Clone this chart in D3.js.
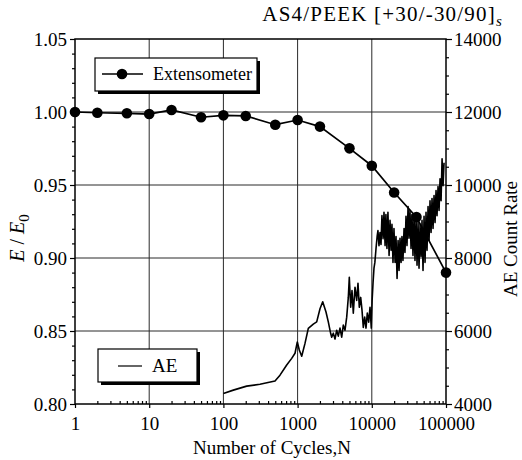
<!DOCTYPE html>
<html>
<head>
<meta charset="utf-8">
<script src="https://cdn.jsdelivr.net/npm/d3@7/dist/d3.min.js"></script>
<style>
  html, body { margin: 0; padding: 0; background: #fff; }
  svg { display: block; }
  svg text { font-family: "Liberation Serif", "Times New Roman", Times, "DejaVu Serif", serif; }
</style>
</head>
<body>
<svg id="chart" width="522" height="460"></svg>
<script>
// extensometer: normalised modulus E/E0 vs cycles
const extCycles = [1, 2, 5, 10, 20, 50, 100, 200, 500, 1000, 2000, 5000, 10000, 20000, 40000, 100000];
const extModulus = [1.000, 0.9995, 0.9991, 0.9986, 1.0014, 0.9964, 0.9977, 0.9973, 0.9913, 0.9945, 0.990, 0.9751, 0.9632, 0.9449, 0.928, 0.890];

// acoustic emission count rate vs cycles
const aeCycles = [
  100, 136, 206, 311, 496, 579, 713, 833, 923, 991, 1054, 1136, 1258, 1394, 1628, 1809,
  2004, 2180, 2414, 2593, 2793, 2882, 3028, 3192, 3365, 3537, 3727, 3929, 4130, 4354,
  4589, 4824, 4976, 5195, 5410, 5632, 5936, 6258, 6516, 6784, 7085, 7379, 7682, 8023,
  8352, 8697, 9082, 9456, 9846,
  10100, 10400, 10700, 11000, 11400, 11800, 12100, 12500, 12900, 13300, 13700, 14200,
  14600, 15100, 15500, 16000, 16500, 17100, 17600, 18200, 18700, 19300, 19900, 20600,
  21200, 21900, 22600, 23300, 24000, 24800, 25500, 26300, 27200, 28000, 28900, 29800,
  30800, 31700, 32700, 33800, 34800, 35900, 37100, 38200, 39500, 40700, 42000, 43300,
  44700, 46100, 47500, 49000, 50600, 52200, 53800, 55500, 57300, 59100, 60900, 62900,
  64800, 66900, 69000, 71200, 73400, 75700, 78100, 80600, 83100, 85800, 88500, 91300, 94100
];
const aeRate = [
  4290, 4380, 4490, 4540, 4630, 4790, 5070, 5250, 5390, 5700, 5480, 5310, 5660, 6070, 6190, 6250,
  6610, 6800, 6520, 6250, 5930, 5830, 5940, 5780, 6020, 5860, 6080, 5830, 6160, 6020,
  6380, 6920, 7470, 6650, 7110, 6490, 7200, 6840, 7310, 6650, 6920, 6570, 6100, 6380,
  6080, 6490, 6240, 6650, 6080,
  6840, 7330, 7720, 7880, 8260, 8590, 8750, 8340, 8700, 8370, 9160, 8530,
  9250, 8340, 9190, 8260, 9250, 8070, 9030, 8210, 8920, 7880, 8810, 7880,
  8590, 7440, 8480, 7660, 8540, 7880, 8590, 7930, 8810, 8150, 9140, 8340,
  9410, 8540, 9300, 8260, 9190, 8070, 9140, 7930, 9080, 7800, 8970, 7720,
  8920, 8040, 9030, 7660, 9140, 7880, 9250, 8210, 9410, 8480, 9570, 8700,
  9630, 8810, 9710, 8970, 9850, 9160, 9960, 9300, 10170, 9570, 10720, 9980, 10610
];

const xTicks = [1, 10, 100, 1000, 10000, 100000];
const yLeftTicks = [0.80, 0.85, 0.90, 0.95, 1.00, 1.05];
const yRightTicks = [4000, 6000, 8000, 10000, 12000, 14000];

const svg = d3.select('#chart');
const plot = { left: 75, right: 446, top: 39, bottom: 404 };

const x = d3.scaleLog().domain([1, 100000]).range([plot.left, plot.right]);
const yL = d3.scaleLinear().domain([0.80, 1.05]).range([plot.bottom, plot.top]);
const yR = d3.scaleLinear().domain([4000, 14000]).range([plot.bottom, plot.top]);

// minor tick values
const xMinor = [];
for (let p = 1; p < 100000; p *= 10) for (let k = 2; k <= 9; k++) xMinor.push(p * k);
const yLeftMinor = d3.range(0.80, 1.0501, 0.01).filter(v => Math.round(v * 100) % 5 !== 0);
const yRightMinor = d3.range(4000, 14001, 500).filter(v => v % 2000 !== 0);

// grid
const grid = svg.append('g').attr('stroke', '#2a2a2a').attr('stroke-width', 1);
grid.selectAll('line.v').data(xTicks.slice(1, -1)).join('line')
  .attr('x1', d => x(d)).attr('x2', d => x(d)).attr('y1', plot.top).attr('y2', plot.bottom);
grid.selectAll('line.h').data(yLeftTicks.slice(1, -1)).join('line')
  .attr('y1', d => yL(d)).attr('y2', d => yL(d)).attr('x1', plot.left).attr('x2', plot.right);

// axes
const fs = '19px';
function style(g) {
  g.select('.domain').remove();
  g.selectAll('line').attr('stroke', '#000').attr('stroke-width', 1.2);
  g.selectAll('text').attr('fill', '#000').style('font-size', fs);
}
svg.append('g').attr('transform', `translate(0,${plot.bottom})`)
  .call(d3.axisBottom(x).tickValues(xTicks).tickFormat(d3.format('d')).tickSize(4).tickPadding(9))
  .call(style);
svg.append('g').attr('transform', `translate(0,${plot.bottom})`)
  .call(d3.axisBottom(x).tickValues(xMinor).tickFormat('').tickSize(-3))
  .call(style);
svg.append('g').attr('transform', `translate(${plot.left},0)`)
  .call(d3.axisLeft(yL).tickValues(yLeftTicks).tickFormat(d3.format('.2f')).tickSize(5).tickPadding(3))
  .call(style);
svg.append('g').attr('transform', `translate(${plot.left},0)`)
  .call(d3.axisLeft(yL).tickValues(yLeftMinor).tickFormat('').tickSize(3))
  .call(style);
svg.append('g').attr('transform', `translate(${plot.right},0)`)
  .call(d3.axisRight(yR).tickValues(yRightTicks).tickFormat(d3.format('d')).tickSize(6).tickPadding(2))
  .call(style);
svg.append('g').attr('transform', `translate(${plot.right},0)`)
  .call(d3.axisRight(yR).tickValues(yRightMinor).tickFormat('').tickSize(3))
  .call(style);

// frame
svg.append('rect').attr('x', plot.left).attr('y', plot.top)
  .attr('width', plot.right - plot.left).attr('height', plot.bottom - plot.top)
  .attr('fill', 'none').attr('stroke', '#000').attr('stroke-width', 1.5);

// AE trace
const ae = aeCycles.map((c, i) => [c, aeRate[i]]);
svg.append('path').datum(ae)
  .attr('fill', 'none').attr('stroke', '#000').attr('stroke-width', 1.6).attr('stroke-linejoin', 'round')
  .attr('d', d3.line().x(d => x(d[0])).y(d => yR(d[1])));

// extensometer
const ext = extCycles.map((c, i) => [c, extModulus[i]]);
svg.append('path').datum(ext)
  .attr('fill', 'none').attr('stroke', '#000').attr('stroke-width', 1.7)
  .attr('d', d3.line().x(d => x(d[0])).y(d => yL(d[1])));
svg.append('g').selectAll('circle').data(ext).join('circle')
  .attr('cx', d => x(d[0])).attr('cy', d => yL(d[1])).attr('r', 5.3).attr('fill', '#000');

// legends
function legendBox(x0, y0, w, h) {
  svg.append('rect').attr('x', x0 + 3).attr('y', y0 + 3).attr('width', w).attr('height', h).attr('fill', '#000');
  svg.append('rect').attr('x', x0).attr('y', y0).attr('width', w).attr('height', h)
    .attr('fill', '#fff').attr('stroke', '#000').attr('stroke-width', 1.2);
}
legendBox(95, 58, 162, 33);
svg.append('line').attr('x1', 102).attr('x2', 143).attr('y1', 74).attr('y2', 74).attr('stroke', '#000').attr('stroke-width', 1.6);
svg.append('circle').attr('cx', 122).attr('cy', 74).attr('r', 5.3).attr('fill', '#000');
svg.append('text').attr('x', 153).attr('y', 80).style('font-size', '18px').text('Extensometer');

legendBox(98, 349, 99, 33);
svg.append('line').attr('x1', 118).attr('x2', 142).attr('y1', 366).attr('y2', 366).attr('stroke', '#000').attr('stroke-width', 1.2);
svg.append('text').attr('x', 152).attr('y', 372).style('font-size', '19px').text('AE');

// titles
svg.append('text').attr('x', 272).attr('y', 454).attr('text-anchor', 'middle').style('font-size', '19px')
  .text('Number of Cycles,N');

const tl = svg.append('text').attr('transform', 'translate(24,238) rotate(-90)')
  .attr('text-anchor', 'middle').style('font-size', '20px');
tl.append('tspan').style('font-style', 'italic').text('E');
tl.append('tspan').attr('dx', 5).text('/');
tl.append('tspan').attr('dx', 5).style('font-style', 'italic').text('E');
tl.append('tspan').attr('dy', 5).style('font-size', '15px').text('0');

svg.append('text').attr('transform', 'translate(517,239) rotate(-90)')
  .attr('text-anchor', 'middle').style('font-size', '19px').text('AE Count Rate');

const tt = svg.append('text').attr('x', 503).attr('y', 21).attr('text-anchor', 'end')
  .style('font-size', '21px').style('letter-spacing', '1.2px');
tt.append('tspan').text('AS4/PEEK [+30/-30/90]');
tt.append('tspan').attr('dy', 5).style('font-size', '15px').style('font-style', 'italic').text('s');
</script>
</body>
</html>
